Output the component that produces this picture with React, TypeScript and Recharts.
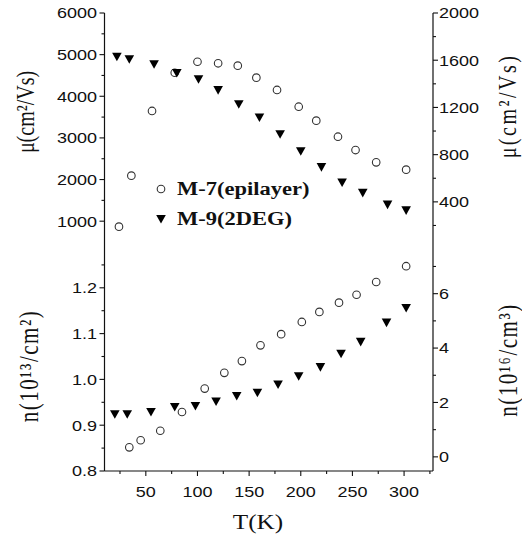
import { Label, Scatter, ScatterChart, XAxis, YAxis } from "recharts";

// temperature (K) and readings, taken off the figure
const T_MU_2DEG = [22, 34, 58, 80, 101, 120, 140, 160, 180, 200, 220, 240, 260, 284, 302];
const MU_2DEG = [4950, 4890, 4770, 4560, 4410, 4150, 3810, 3490, 3090, 2680, 2300, 1930, 1680, 1400, 1260];
const T_MU_EPI = [24, 36, 56, 78, 100, 120, 139, 157, 177, 198, 215, 236, 253, 273, 302];
const MU_EPI = [190, 622, 1170, 1494, 1587, 1574, 1554, 1452, 1348, 1206, 1088, 952, 839, 735, 673];
const T_N_2DEG = [20, 32, 55, 78, 98, 118, 138, 158, 178, 198, 219, 239, 258, 283, 302];
const N_2DEG = [0.924, 0.924, 0.929, 0.94, 0.942, 0.952, 0.964, 0.971, 0.989, 1.007, 1.027, 1.056, 1.082, 1.124, 1.156];
const T_N_EPI = [34, 45, 64, 85, 107, 126, 143, 161, 181, 201, 218, 237, 254, 273, 302];
const N_EPI = [0.35, 0.61, 0.96, 1.65, 2.51, 3.09, 3.52, 4.1, 4.51, 4.96, 5.33, 5.67, 5.96, 6.43, 7.01];

const T_TICKS = [25, 50, 75, 100, 125, 150, 175, 200, 225, 250, 275, 300, 325];
const T_LABELS = [50, 100, 150, 200, 250, 300];
const MU_L_TICKS = [1000, 1500, 2000, 2500, 3000, 3500, 4000, 4500, 5000, 5500, 6000];
const MU_L_LABELS = [1000, 2000, 3000, 4000, 5000, 6000];
const MU_R_TICKS = [200, 400, 600, 800, 1000, 1200, 1400, 1600, 1800, 2000];
const MU_R_LABELS = [400, 800, 1200, 1600, 2000];
const N_L_TICKS = [0.8, 0.85, 0.9, 0.95, 1.0, 1.05, 1.1, 1.15, 1.2, 1.25];
const N_L_LABELS = [0.8, 0.9, 1.0, 1.1, 1.2];
const N_R_TICKS = [0, 1, 2, 3, 4, 5, 6, 7];
const N_R_LABELS = [0, 2, 4, 6];

const LEGEND = [
  { key: "epi", label: "M-7(epilayer)" },
  { key: "2deg", label: "M-9(2DEG)" },
];

const SERIF = '"Liberation Serif", "Times New Roman", serif';
const SANS = '"Liberation Sans", Arial, sans-serif';
const INK = "#111";
const T_DOMAIN: [number, number] = [10, 328];

const zip = (xs: number[], ys: number[]) => xs.map((T, i) => ({ T, v: ys[i] }));

type Side = "left" | "right" | "down" | "bottom";

// tick line + optional label; axes use tickSize 0 so x/y is the axis line itself
function axisTick(side: Side, labels: number[], fmt: (v: number) => string = String, showText = true) {
  return (props: any) => {
    const { x, y, payload } = props;
    const v = payload.value as number;
    const major = labels.some((l) => Math.abs(l - v) < 1e-6);
    const len = major ? 5 : 3;
    let l = [x, y, x, y];
    let tx = x;
    let ty = y;
    let anchor = "middle";
    if (side === "left") {
      l = [x - len, y, x, y];
      tx = x - 7.5;
      ty = y + 5.4;
      anchor = "end";
    } else if (side === "right") {
      l = [x, y, x + len, y];
      tx = x + 6;
      ty = y + 5.4;
      anchor = "start";
    } else {
      l = [x, y, x, y + len];
      tx = x;
      ty = y + 26;
    }
    return (
      <g>
        <line x1={l[0]} y1={l[1]} x2={l[2]} y2={l[3]} stroke={INK} strokeWidth={1.1} />
        {showText && major ? (
          <text
            transform={`translate(${tx} ${ty}) scale(1.2 1)`}
            textAnchor={anchor}
            fontFamily={SANS}
            fontSize={15}
            fill={INK}
          >
            {fmt(v)}
          </text>
        ) : null}
      </g>
    );
  };
}

const vTitle = (x: number, y: number, text: string, size: number, spacing = 0) => () => (
  <text
    transform={`translate(${x} ${y}) scale(1.25 1) rotate(-90)`}
    textAnchor="middle"
    fontFamily={SERIF}
    fontSize={size}
    letterSpacing={spacing}
    fill={INK}
  >
    {text}
  </text>
);

const Ring = (p: any) => (
  <circle cx={p.cx} cy={p.cy} r={3.8} fill="none" stroke="#333" strokeWidth={1.1} />
);
const Tri = (p: any) => (
  <path d={`M${p.cx - 4.8},${p.cy - 4} L${p.cx + 4.8},${p.cy - 4} L${p.cx},${p.cy + 4.6} Z`} fill="#000" />
);

const AXIS_LINE = { stroke: INK, strokeWidth: 1.2 };

export default function App() {
  return (
    <div style={{ position: "absolute", left: 0, top: 0, width: 522, height: 549, background: "#fff" }}>
      {/* mobility */}
      <div style={{ position: "absolute", left: 0, top: 0 }}>
        <ScatterChart width={522} height={242} margin={{ top: 13, right: 0, bottom: 0, left: 0 }}>
          <XAxis
            xAxisId="x"
            orientation="top"
            type="number"
            dataKey="T"
            domain={T_DOMAIN}
            allowDataOverflow
            ticks={T_TICKS}
            interval={0}
            height={0}
            tickSize={0}
            tickMargin={0}
            tickLine={false}
            axisLine={AXIS_LINE}
            tick={axisTick("down", T_LABELS, String, false)}
          />
          <YAxis
            yAxisId="l"
            type="number"
            dataKey="v"
            domain={[500, 6000]}
            allowDataOverflow
            ticks={MU_L_TICKS}
            interval={0}
            width={104.5}
            tickSize={0}
            tickMargin={0}
            tickLine={false}
            axisLine={AXIS_LINE}
            tick={axisTick("left", MU_L_LABELS)}
          >
            <Label content={vTitle(34, 112, "μ(cm²/Vs)", 20)} />
          </YAxis>
          <YAxis
            yAxisId="r"
            orientation="right"
            type="number"
            dataKey="v"
            domain={[60, 2000]}
            allowDataOverflow
            ticks={MU_R_TICKS}
            interval={0}
            width={89}
            tickSize={0}
            tickMargin={0}
            tickLine={false}
            axisLine={AXIS_LINE}
            tick={axisTick("right", MU_R_LABELS)}
          >
            <Label content={vTitle(516, 106, "μ(cm²/Vs)", 20, 2.5)} />
          </YAxis>
          <Scatter
            name="M-7(epilayer)"
            data={zip(T_MU_EPI, MU_EPI)}
            xAxisId="x"
            yAxisId="r"
            shape={Ring}
            isAnimationActive={false}
          />
          <Scatter
            name="M-9(2DEG)"
            data={zip(T_MU_2DEG, MU_2DEG)}
            xAxisId="x"
            yAxisId="l"
            shape={Tri}
            isAnimationActive={false}
          />
        </ScatterChart>
      </div>

      {/* carrier density */}
      <div style={{ position: "absolute", left: 0, top: 0 }}>
        <ScatterChart width={522} height={549} margin={{ top: 242, right: 0, bottom: 0, left: 0 }}>
          <XAxis
            xAxisId="x"
            type="number"
            dataKey="T"
            domain={T_DOMAIN}
            allowDataOverflow
            ticks={T_TICKS}
            interval={0}
            height={78}
            tickSize={0}
            tickMargin={0}
            tickLine={false}
            axisLine={AXIS_LINE}
            tick={axisTick("bottom", T_LABELS)}
          >
            <Label
              content={() => (
                <text
                  transform="translate(258 529) scale(1.2 1)"
                  textAnchor="middle"
                  fontFamily={SERIF}
                  fontSize={21}
                  fill={INK}
                >
                  T(K)
                </text>
              )}
            />
          </XAxis>
          <XAxis
            xAxisId="t"
            orientation="top"
            type="number"
            dataKey="T"
            domain={T_DOMAIN}
            allowDataOverflow
            ticks={T_TICKS}
            interval={0}
            height={0}
            tickSize={0}
            tickMargin={0}
            tickLine={false}
            axisLine={AXIS_LINE}
            tick={axisTick("down", T_LABELS, String, false)}
          />
          <YAxis
            yAxisId="l"
            type="number"
            dataKey="v"
            domain={[0.8, 1.3]}
            allowDataOverflow
            ticks={N_L_TICKS}
            interval={0}
            width={104.5}
            tickSize={0}
            tickMargin={0}
            tickLine={false}
            axisLine={AXIS_LINE}
            tick={axisTick("left", N_L_LABELS, (v) => v.toFixed(1))}
          >
            <Label content={vTitle(38, 366, "n(10¹³/cm²)", 21, 1.5)} />
          </YAxis>
          <YAxis
            yAxisId="r"
            orientation="right"
            type="number"
            dataKey="v"
            domain={[-0.52, 7.9]}
            allowDataOverflow
            ticks={N_R_TICKS}
            interval={0}
            width={89}
            tickSize={0}
            tickMargin={0}
            tickLine={false}
            axisLine={AXIS_LINE}
            tick={axisTick("right", N_R_LABELS)}
          >
            <Label content={vTitle(517, 360, "n(10¹⁶/cm³)", 21, 1.5)} />
          </YAxis>
          <Scatter
            name="M-7(epilayer)"
            data={zip(T_N_EPI, N_EPI)}
            xAxisId="x"
            yAxisId="r"
            shape={Ring}
            isAnimationActive={false}
          />
          <Scatter
            name="M-9(2DEG)"
            data={zip(T_N_2DEG, N_2DEG)}
            xAxisId="t"
            yAxisId="l"
            shape={Tri}
            isAnimationActive={false}
          />
        </ScatterChart>
      </div>

      {/* legend */}
      <div
        style={{
          position: "absolute",
          left: 154,
          top: 174,
          fontFamily: SERIF,
          fontWeight: 700,
          fontSize: 18,
          color: INK,
        }}
      >
        {LEGEND.map((item) => (
          <div key={item.key} style={{ display: "flex", alignItems: "center", height: 30 }}>
            <svg width={14} height={14}>
              {item.key === "epi" ? <Ring cx={7} cy={7} /> : <Tri cx={7} cy={7} />}
            </svg>
            <span
              style={{
                marginLeft: 9,
                display: "inline-block",
                whiteSpace: "nowrap",
                transform: "scaleX(1.25)",
                transformOrigin: "left center",
              }}
            >
              {item.label}
            </span>
          </div>
        ))}
      </div>
    </div>
  );
}
